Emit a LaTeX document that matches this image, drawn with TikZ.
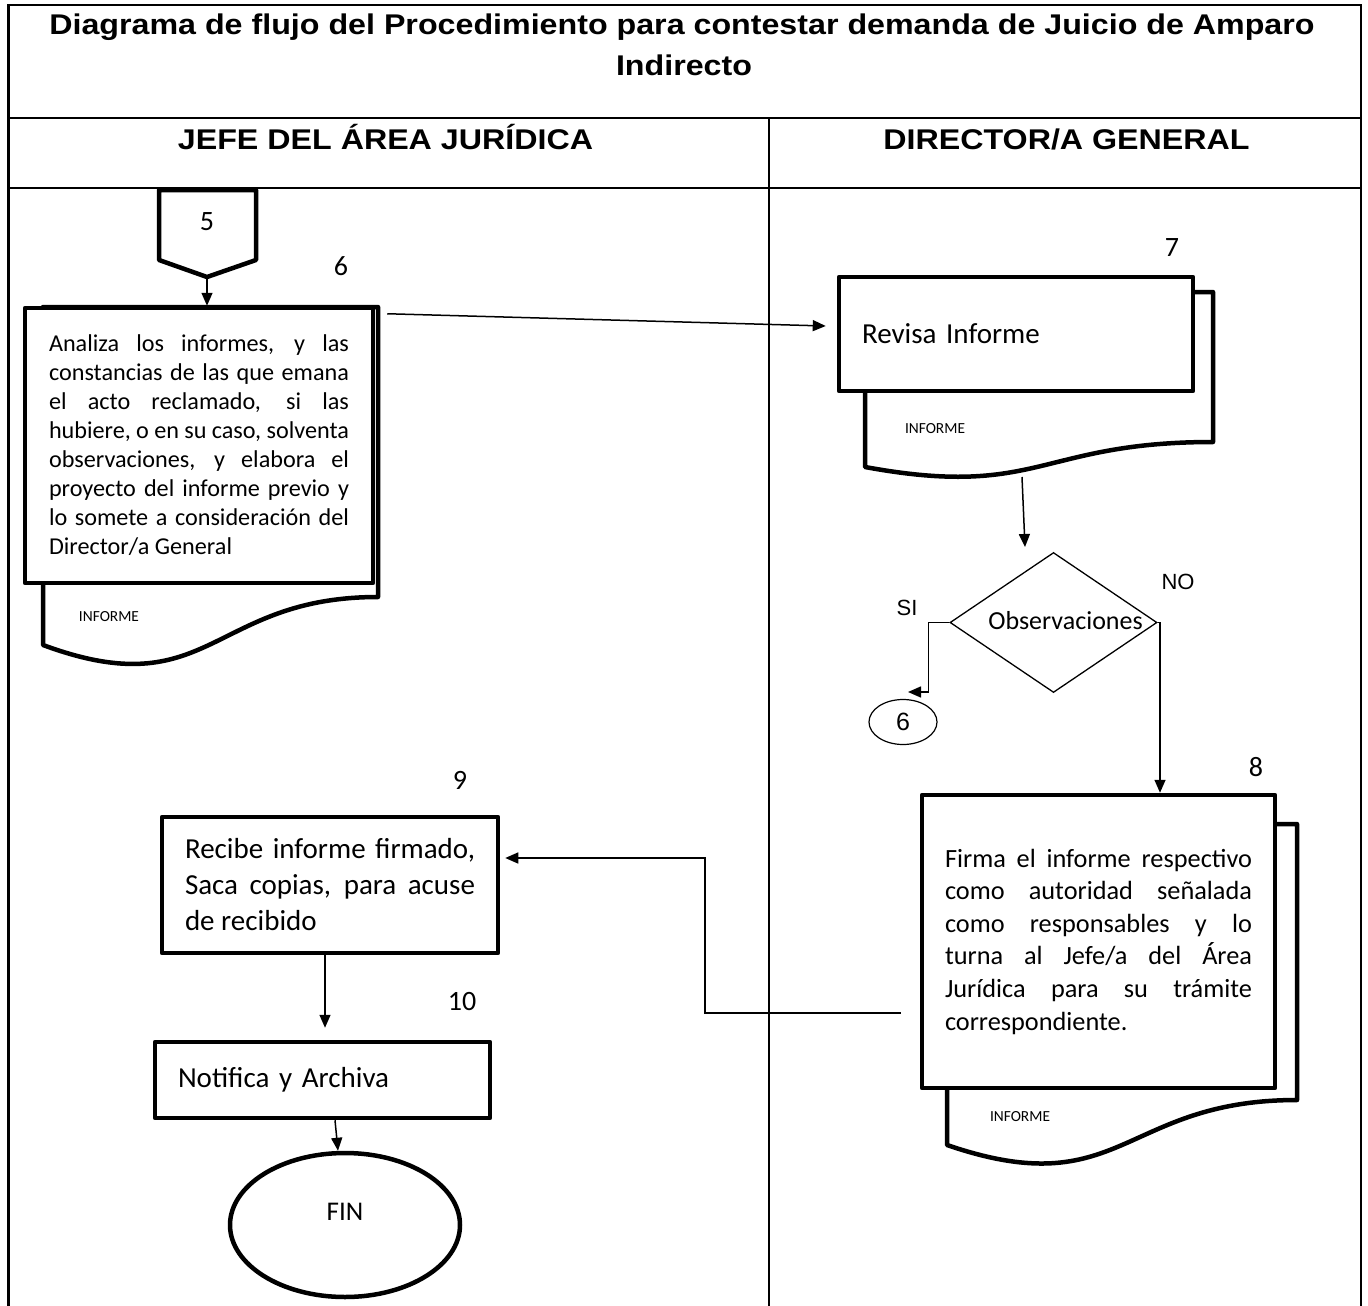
\documentclass[tikz,border=0pt]{standalone}
\usepackage{fontspec}
\setmainfont{Carlito}
\newfontfamily\headfont{Liberation Sans}[FakeStretch=1.13]
\newfontfamily\arialfont{Liberation Sans}
\usetikzlibrary{arrows.meta,calc,shapes.geometric}
\newcommand\setpx[2]{\fontsize{#1pt}{#2pt}\selectfont}
\hyphenpenalty=10000\relax
\exhyphenpenalty=10000\relax
\tolerance=10000\relax
\hbadness=10000\relax

\begin{document}
\begin{tikzpicture}[x=1pt,y=-1pt,
  gridline/.style={line width=2.5pt},
  box/.style={draw,line width=4.5pt,fill=white,line join=round,inner sep=0pt},
  sheet/.style={draw,line width=4.5pt,fill=white,line join=round},
  arr/.style={line width=1.5pt,-{Triangle[length=13pt,width=11pt]}},
  num/.style={font=\setpx{28}{34}},
  small/.style={font=\setpx{15.4}{19}},
  head/.style={font=\headfont\bfseries\setpx{28.5}{34},anchor=base,inner sep=0pt},
  jtext/.style={align=justify},
]
\useasboundingbox (0,0) rectangle (1368,1306);

% table frame
\draw[gridline] (8.5,1310) -- (8.5,5) -- (1361,5) -- (1361,1310);
\draw[gridline] (8.5,118) -- (1361,118);
\draw[gridline] (8.5,188) -- (1361,188);
\draw[gridline] (769,118) -- (769,1310);

% title and lane headers
\node[head] (t1) at (682,35) {Diagrama de flujo del Procedimiento para contestar demanda de Juicio de Amparo};
\node[head] (t2) at (684,75) {Indirecto};
\node[head] (h1) at (385.5,149) {JEFE DEL ÁREA JURÍDICA};
\node[head] (h2) at (1066.5,149) {DIRECTOR/A GENERAL};

% off-page connector 5
\draw[line width=4.5pt,line join=round] (159,190) -- (256,190) -- (256,260) -- (207,277) -- (159,260) -- cycle;
\coordinate (c5tip) at (207,277);
\node[num] (c5) at (207,222) {5};

% step 6: multi-document
\draw[sheet] (43,307) -- (378,307) -- (378,597) .. controls (210.5,597) and (210.5,707) .. (43,645) -- cycle;
\node[box,minimum width=348pt,minimum height=275pt] (b6) at (199,445.5) {};
\node[jtext,text width=300pt,font=\setpx{24.2}{29}] (b6t) at (b6.center)
  {Analiza los informes, y las\linebreak constancias de las que emana\linebreak el acto reclamado, si las\linebreak hubiere, o en su caso, solventa\linebreak observaciones, y elabora el\linebreak proyecto del informe previo y\linebreak lo somete a consideración del\linebreak Director/a General};
\node[small] (i6) at (109,617) {INFORME};
\node[num] (n6) at (341,266) {6};

% step 7
\draw[sheet] (865,292) -- (1213,292) -- (1213,442) .. controls (1039,442) and (1039,499) .. (865,467) -- cycle;
\node[box,minimum width=354pt,minimum height=114pt,text width=308pt,align=left,font=\setpx{29}{35}] (b7) at (1016,334) {Revisa Informe};
\node[small] (i7) at (935,429) {INFORME};
\node[num] (n7) at (1172,248) {7};
\coordinate (w7) at (1022,477);

% decision
\node[draw,diamond,line width=1.3pt,minimum width=207pt,minimum height=140pt,inner sep=0pt,
      label={[font=\setpx{26}{30},xshift=12pt,yshift=2pt]center:Observaciones}] (dec) at (1053.5,622.5) {};
\coordinate (din) at (1025,547);
\node[font=\arialfont\setpx{22}{26}] (si) at (907,608) {SI};
\node[font=\arialfont\setpx{22}{26}] (no) at (1178,582) {NO};
\node[draw,ellipse,line width=1.2pt,minimum width=68pt,minimum height=45pt,inner sep=0pt,
      font=\arialfont\setpx{25}{30}] (c6) at (903,722) {6};
\coordinate (sitip) at (908,692);

% step 8
\draw[sheet] (947,824) -- (1297,824) -- (1297,1100) .. controls (1122,1100) and (1122,1205) .. (947,1145) -- cycle;
\node[box,minimum width=353pt,minimum height=293pt] (b8) at (1098.5,941.5) {};
\node[jtext,text width=307pt,font=\setpx{26.3}{32.6}] (b8t) at (b8.center)
  {Firma el informe respectivo\linebreak como autoridad señalada\linebreak como responsables y lo\linebreak turna al Jefe/a del Área\linebreak Jurídica para su trámite\linebreak correspondiente.};
\node[small] (i8) at (1020,1117) {INFORME};
\node[num] (n8) at (1256,767) {8};

% step 9
\node[box,minimum width=336pt,minimum height=136pt] (b9) at (330,885) {};
\node[jtext,text width=290pt,font=\setpx{29}{36}] (b9t) at (b9.center)
  {Recibe informe firmado,\linebreak Saca copias, para acuse\linebreak de recibido};
\node[num] (n9) at (460,780) {9};

% step 10
\node[box,minimum width=335pt,minimum height=76pt,text width=289pt,align=left,font=\setpx{29}{35}] (b10) at (322.5,1080) {Notifica y Archiva};
\node[num] (n10) at (462,1001) {10};

% end
\node[draw,ellipse,line width=4.5pt,minimum width=230pt,minimum height=144pt,inner sep=0pt,
      label={[font=\setpx{27}{32},yshift=13pt]center:FIN}] (fin) at (345,1225) {};

% connectors
\draw[arr] (c5tip) -- (c5tip |- b6.north);
\draw[arr] ($(b6.north east)+(12,8)$) -- ($(b7.west)+(-11,-8)$);
\draw[arr] (w7) -- (din);
\draw[arr] (dec.west) -- ++(-21,0) |- (sitip);
\draw[arr] (dec.east) -| ($(b8.north)+(61.5,0)$);
\draw[arr] ($(b8.west)+(-19,71.5)$) -| (705,858) -- ($(b9.east)+(5,-27)$);
\draw[arr] ($(b9.south)+(-5,0)$) -- ($(b10.north)+(2.5,-12)$);
\draw[arr] ($(b10.south)+(12.5,0)$) -- ($(fin.north)+(-7,0)$);
\end{tikzpicture}
\end{document}
